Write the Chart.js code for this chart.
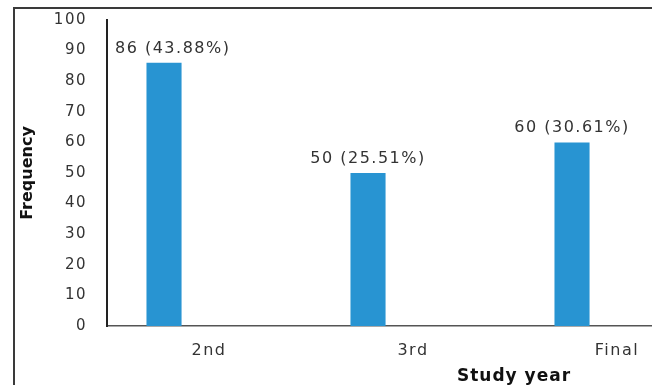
<!DOCTYPE html>
<html>
<head>
<meta charset="utf-8">
<script src="https://cdn.jsdelivr.net/npm/chart.js@4/dist/chart.umd.min.js"></script>
<style>
  html, body { margin: 0; padding: 0; background: #ffffff; overflow: hidden; width: 652px; height: 385px; }
  #frame { position: absolute; left: 13px; top: 7px; width: 720px; height: 420px;
           border-top: 2px solid #3a3a3a; border-left: 2px solid #3a3a3a; box-sizing: border-box; }
  #wrap { position: absolute; left: 0; top: 0; width: 720px; height: 385px; }
</style>
</head>
<body>
<div id="frame"></div>
<div id="wrap"><canvas id="chart" width="720" height="385"></canvas></div>
<script>
// ---- data ----
const categories = ['2nd', '3rd', 'Final'];
const frequencies = [86, 50, 60];
const percentages = [43.88, 25.51, 30.61];
const emptySeries = [null, null, null];
const yMin = 0, yMax = 100, yStep = 10;
const xTitle = 'Study year';
const yTitle = 'Frequency';

const FONT = '"DejaVu Sans", "Open Sans", sans-serif';

const textPlugin = {
  id: 'textPlugin',
  beforeDraw(chart) {
    chart.ctx.letterSpacing = '1.5px';
  },
  afterDatasetsDraw(chart) {
    const ctx = chart.ctx;
    const area = chart.chartArea;
    const meta = chart.getDatasetMeta(0);
    ctx.save();
    ctx.font = '16px ' + FONT;
    ctx.letterSpacing = '1.5px';
    ctx.fillStyle = '#333333';
    ctx.textAlign = 'left';
    ctx.textBaseline = 'alphabetic';
    meta.data.forEach((bar, i) => {
      const label = frequencies[i] + ' (' + percentages[i].toFixed(2) + '%)';
      const w = ctx.measureText(label).width;
      let x = bar.x - w / 2;
      if (x < area.left + 8) x = area.left + 8;   // keep clear of the y axis
      ctx.fillText(label, x, bar.y - 10);
    });
    ctx.restore();
  },
  afterDraw(chart) {
    const ctx = chart.ctx;
    const area = chart.chartArea;
    ctx.save();
    // y axis title
    ctx.font = 'bold 16px ' + FONT;
    ctx.letterSpacing = '0px';
    ctx.fillStyle = '#111111';
    ctx.textAlign = 'center';
    ctx.textBaseline = 'middle';
    ctx.translate(28, (area.top + area.bottom) / 2);
    ctx.rotate(-Math.PI / 2);
    ctx.fillText(yTitle, 0, 0);
    ctx.restore();
    // x axis title
    ctx.save();
    ctx.font = 'bold 17px ' + FONT;
    ctx.letterSpacing = '1px';
    ctx.fillStyle = '#111111';
    ctx.textAlign = 'center';
    ctx.textBaseline = 'middle';
    ctx.fillText(xTitle, area.left + 407, 377);
    ctx.restore();
  }
};

new Chart(document.getElementById('chart'), {
  type: 'bar',
  data: {
    labels: categories,
    datasets: [
      { label: 'Frequency', data: frequencies, backgroundColor: '#2894d2', borderWidth: 0,
        categoryPercentage: 0.882, barPercentage: 0.39 },
      { label: '', data: emptySeries, backgroundColor: '#2894d2', borderWidth: 0,
        categoryPercentage: 0.882, barPercentage: 0.39 }
    ]
  },
  options: {
    responsive: false,
    animation: false,
    events: [],
    layout: { padding: { left: 0, top: 20, right: 1, bottom: 0 } },
    plugins: { legend: { display: false }, tooltip: { enabled: false }, title: { display: false } },
    scales: {
      x: {
        grid: { display: false, drawTicks: false },
        border: { display: true, color: '#555555', width: 1.5 },
        ticks: { font: { family: FONT, size: 16 }, color: '#333333', padding: 15, maxRotation: 0 },
        afterFit(scale) { scale.height = 59; }
      },
      y: {
        min: yMin, max: yMax,
        grid: { display: false, drawTicks: false },
        border: { display: true, color: '#222222', width: 2 },
        ticks: { stepSize: yStep, font: { family: FONT, size: 15 }, color: '#333333', padding: 20 },
        afterFit(scale) { scale.width = 107; scale.paddingTop = 0; scale.paddingBottom = 0; }
      }
    }
  },
  plugins: [textPlugin]
});
</script>
</body>
</html>
